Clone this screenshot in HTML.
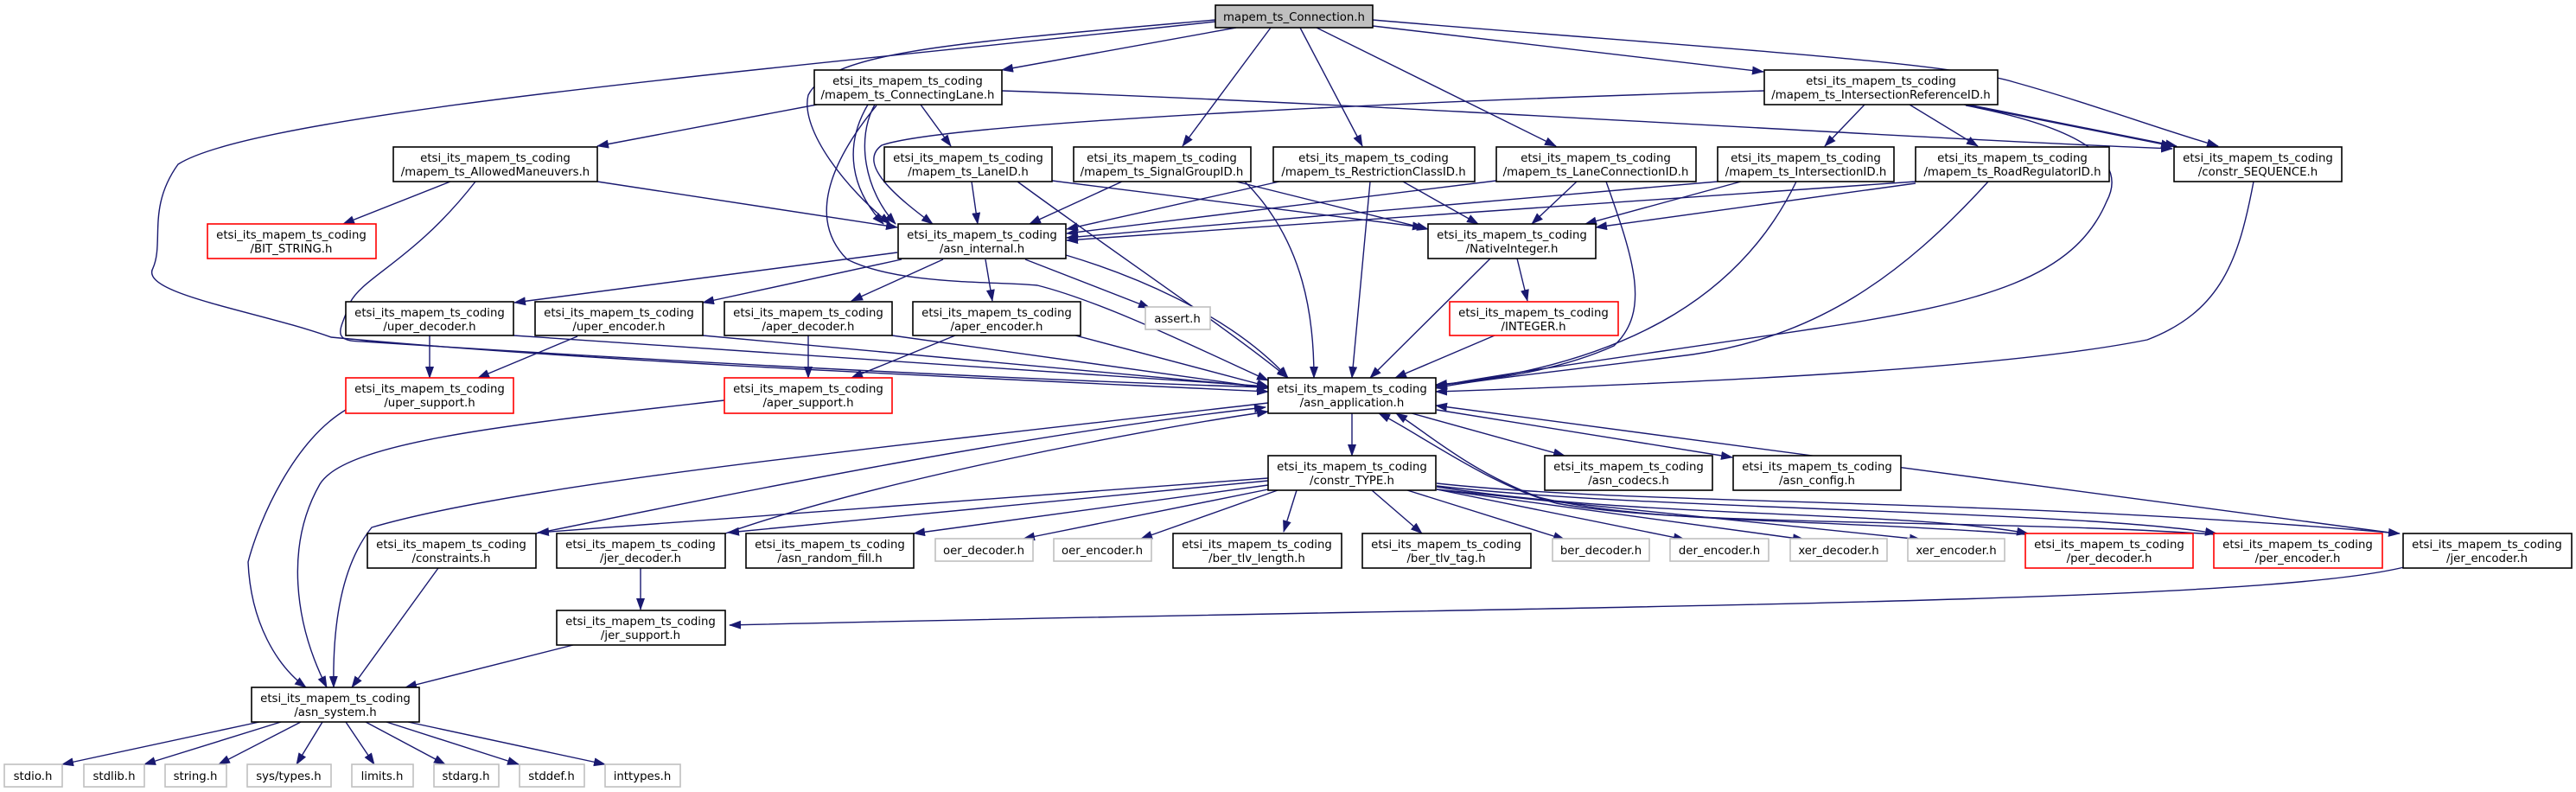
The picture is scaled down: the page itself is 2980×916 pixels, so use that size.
<!DOCTYPE html>
<html><head><meta charset="utf-8"><style>
html,body{margin:0;padding:0;background:#fff;}
svg{display:block;}
text{font-family:"DejaVu Sans","Liberation Sans",sans-serif;font-size:13.3px;fill:#000;}
.e{fill:none;stroke:#191970;stroke-width:1.4;marker-end:url(#a);}
.n{fill:#fff;stroke:#000;stroke-width:1.6;}
.g{fill:#fff;stroke:#bfbfbf;stroke-width:1.6;}
.r{fill:#fff;stroke:#ff0000;stroke-width:1.6;}
</style></head><body>
<svg width="2980" height="916" viewBox="0 0 2980 916" xmlns="http://www.w3.org/2000/svg">
<defs><marker id="a" markerUnits="userSpaceOnUse" markerWidth="14" markerHeight="10" refX="13" refY="5" orient="auto"><path d="M0,0 L14,5 L0,10 z" fill="#191970"/></marker></defs>
<g>
<!-- from Connection -->
<path class="e" d="M1430,32 L1159,81"/>
<path class="e" d="M1406,23 C1100,50 960,60 935,110 C925,150 980,220 1030,259"/>
<path class="e" d="M1406,25 C900,80 300,130 206,190 C170,240 190,280 177,310 C160,340 300,360 383,390 C700,420 1200,440 1467,453"/>
<path class="e" d="M1470,32 L1368,169"/>
<path class="e" d="M1504,32 L1576,169"/>
<path class="e" d="M1523,32 L1800,169"/>
<path class="e" d="M1588,30 L2040,83"/>
<path class="e" d="M1588,23 C1900,50 2250,70 2330,95 C2420,120 2500,150 2566,169"/>
<!-- ConnectingLane -->
<path class="e" d="M945,121 L691,169"/>
<path class="e" d="M1065,121 L1100,169"/>
<path class="e" d="M1004,121 C975,170 985,220 1022,259"/>
<path class="e" d="M1012,121 C990,160 1000,220 1036,259"/>
<path class="e" d="M1014,122 C950,200 940,260 980,300 C1040,330 1150,325 1200,330 C1280,350 1400,410 1467,440"/>
<path class="e" d="M1159,105 C1600,120 2200,160 2513,172"/>
<!-- IntersectionReferenceID -->
<path class="e" d="M2041,105 C1700,115 1100,140 1020,168 C990,190 1040,230 1079,259"/>
<path class="e" d="M2157,121 L2111,169"/>
<path class="e" d="M2209,121 L2288,169"/>
<path class="e" d="M2272,121 L2513,169"/>
<path class="e" d="M2277,121 L2518,169"/>
<path class="e" d="M2274,122 C2420,150 2460,190 2437,233 C2400,320 2300,350 2100,380 C1900,410 1750,430 1661,447"/>
<!-- AllowedManeuvers -->
<path class="e" d="M521,210 L397,259"/>
<path class="e" d="M691,210 L1038,263"/>
<path class="e" d="M550,210 C480,300 420,320 405,350 C395,380 380,395 420,395 C800,420 1200,440 1467,448"/>
<!-- LaneID -->
<path class="e" d="M1124,210 L1131,259"/>
<path class="e" d="M1217,209 L1647,263"/>
<path class="e" d="M1177,210 C1300,300 1420,380 1490,437"/>
<!-- SignalGroupID -->
<path class="e" d="M1298,210 L1191,259"/>
<path class="e" d="M1430,210 L1652,265"/>
<path class="e" d="M1440,210 C1510,280 1520,370 1520,437"/>
<!-- RestrictionClassID -->
<path class="e" d="M1480,210 L1234,265"/>
<path class="e" d="M1623,210 L1710,259"/>
<path class="e" d="M1585,210 L1564,437"/>
<!-- LaneConnectionID -->
<path class="e" d="M1731,209 L1234,270"/>
<path class="e" d="M1824,210 L1772,259"/>
<path class="e" d="M1858,210 C1890,300 1910,360 1867,400 C1800,430 1720,440 1661,445"/>
<!-- IntersectionID -->
<path class="e" d="M1987,210 L1234,275"/>
<path class="e" d="M2014,210 L1834,259"/>
<path class="e" d="M2078,210 C2020,330 1900,420 1661,446"/>
<!-- RoadRegulatorID -->
<path class="e" d="M2216,210 L1234,278"/>
<path class="e" d="M2216,212 L1846,263"/>
<path class="e" d="M2300,210 C2200,320 2100,390 1958,410 C1800,430 1700,440 1661,449"/>
<!-- constr_SEQUENCE -->
<path class="e" d="M2607,210 C2590,300 2570,360 2484,393 C2300,430 1900,445 1661,453"/>
<!-- NativeInteger, INTEGER -->
<path class="e" d="M1755,299 L1767,348"/>
<path class="e" d="M1724,299 L1585,437"/>
<path class="e" d="M1729,388 L1614,437"/>
<!-- asn_internal -->
<path class="e" d="M1038,292 L595,350"/>
<path class="e" d="M1043,300 L813,350"/>
<path class="e" d="M1091,300 L985,348"/>
<path class="e" d="M1140,300 L1148,348"/>
<path class="e" d="M1186,300 L1330,356"/>
<path class="e" d="M1233,295 C1300,315 1420,360 1490,437"/>
<!-- decoders/encoders -->
<path class="e" d="M497,388 L497,437"/>
<path class="e" d="M594,388 L1467,447"/>
<path class="e" d="M668,389 L553,437"/>
<path class="e" d="M813,388 L1467,448"/>
<path class="e" d="M935,388 L935,437"/>
<path class="e" d="M1032,388 L1467,449"/>
<path class="e" d="M1105,388 L985,437"/>
<path class="e" d="M1244,388 L1467,447"/>
<!-- supports -> asn_system -->
<path class="e" d="M400,474 C340,510 300,600 287,650 C290,720 320,770 354,795"/>
<path class="e" d="M838,463 C600,490 400,510 370,560 C330,630 340,720 378,795"/>
<!-- asn_application -->
<path class="e" d="M1564,478 L1564,527"/>
<path class="e" d="M1633,478 L1810,527"/>
<path class="e" d="M1662,474 L2004,529"/>
<path class="e" d="M1467,466 C1000,520 600,560 430,610 C390,660 385,740 386,795"/>
<path class="e" d="M620,617 C900,560 1200,500 1464,471"/>
<path class="e" d="M839,617 C1000,560 1300,500 1467,476"/>
<path class="e" d="M2772,617 L1661,469"/>
<path class="e" d="M2561,618 C2300,600 1950,610 1800,582 C1720,560 1640,500 1595,478"/>
<path class="e" d="M2343,618 C2100,600 1900,605 1780,575 C1700,545 1650,500 1615,478"/>
<!-- constr_TYPE -->
<path class="e" d="M1467,553 L622,616"/>
<path class="e" d="M1467,556 L842,616"/>
<path class="e" d="M1467,561 L1057,617"/>
<path class="e" d="M1467,566 L1184,623"/>
<path class="e" d="M1478,567 L1320,623"/>
<path class="e" d="M1500,567 L1485,615"/>
<path class="e" d="M1587,567 L1645,617"/>
<path class="e" d="M1628,567 L1810,624"/>
<path class="e" d="M1662,566 L1949,624"/>
<path class="e" d="M1662,566 L2087,624"/>
<path class="e" d="M1662,566 L2222,624"/>
<path class="e" d="M1662,563 C1900,600 2200,590 2346,617"/>
<path class="e" d="M1662,562 C1900,590 2400,590 2564,617"/>
<path class="e" d="M1662,559 C1900,585 2300,575 2776,617"/>
<!-- jer -->
<path class="e" d="M2781,656 C2600,700 1800,700 844,723"/>
<path class="e" d="M741,657 L741,705"/>
<path class="e" d="M663,746 L469,795"/>
<path class="e" d="M507,657 L407,795"/>
<!-- asn_system -> std headers -->
<path class="e" d="M300,835 L72,884"/>
<path class="e" d="M325,835 L167,884"/>
<path class="e" d="M348,835 L253,884"/>
<path class="e" d="M373,835 L343,884"/>
<path class="e" d="M400,835 L433,884"/>
<path class="e" d="M423,835 L515,884"/>
<path class="e" d="M447,835 L600,884"/>
<path class="e" d="M472,835 L700,884"/>
</g>
<g>
<!-- nodes -->
<rect x="1406" y="6" width="182" height="26" fill="#bfbfbf" stroke="#000" stroke-width="1.6"/><text x="1497" y="24" text-anchor="middle">mapem_ts_Connection.h</text>

<rect class="n" x="942" y="81" width="217" height="40"/><text x="1050" y="98" text-anchor="middle">etsi_its_mapem_ts_coding</text><text x="1050" y="114" text-anchor="middle">/mapem_ts_ConnectingLane.h</text>
<rect class="n" x="2041" y="81" width="270" height="40"/><text x="2176" y="98" text-anchor="middle">etsi_its_mapem_ts_coding</text><text x="2176" y="114" text-anchor="middle">/mapem_ts_IntersectionReferenceID.h</text>

<rect class="n" x="455" y="170" width="236" height="40"/><text x="573" y="187" text-anchor="middle">etsi_its_mapem_ts_coding</text><text x="573" y="203" text-anchor="middle">/mapem_ts_AllowedManeuvers.h</text>
<rect class="n" x="1023" y="170" width="194" height="40"/><text x="1120" y="187" text-anchor="middle">etsi_its_mapem_ts_coding</text><text x="1120" y="203" text-anchor="middle">/mapem_ts_LaneID.h</text>
<rect class="n" x="1242" y="170" width="205" height="40"/><text x="1344" y="187" text-anchor="middle">etsi_its_mapem_ts_coding</text><text x="1344" y="203" text-anchor="middle">/mapem_ts_SignalGroupID.h</text>
<rect class="n" x="1473" y="170" width="233" height="40"/><text x="1589" y="187" text-anchor="middle">etsi_its_mapem_ts_coding</text><text x="1589" y="203" text-anchor="middle">/mapem_ts_RestrictionClassID.h</text>
<rect class="n" x="1731" y="170" width="231" height="40"/><text x="1846" y="187" text-anchor="middle">etsi_its_mapem_ts_coding</text><text x="1846" y="203" text-anchor="middle">/mapem_ts_LaneConnectionID.h</text>
<rect class="n" x="1987" y="170" width="204" height="40"/><text x="2089" y="187" text-anchor="middle">etsi_its_mapem_ts_coding</text><text x="2089" y="203" text-anchor="middle">/mapem_ts_IntersectionID.h</text>
<rect class="n" x="2216" y="170" width="224" height="40"/><text x="2328" y="187" text-anchor="middle">etsi_its_mapem_ts_coding</text><text x="2328" y="203" text-anchor="middle">/mapem_ts_RoadRegulatorID.h</text>
<rect class="n" x="2515" y="170" width="194" height="40"/><text x="2612" y="187" text-anchor="middle">etsi_its_mapem_ts_coding</text><text x="2612" y="203" text-anchor="middle">/constr_SEQUENCE.h</text>

<rect class="r" x="240" y="259" width="195" height="40"/><text x="337" y="276" text-anchor="middle">etsi_its_mapem_ts_coding</text><text x="337" y="292" text-anchor="middle">/BIT_STRING.h</text>
<rect class="n" x="1039" y="259" width="194" height="40"/><text x="1136" y="276" text-anchor="middle">etsi_its_mapem_ts_coding</text><text x="1136" y="292" text-anchor="middle">/asn_internal.h</text>
<rect class="n" x="1652" y="259" width="194" height="40"/><text x="1749" y="276" text-anchor="middle">etsi_its_mapem_ts_coding</text><text x="1749" y="292" text-anchor="middle">/NativeInteger.h</text>

<rect class="n" x="400" y="349" width="194" height="39"/><text x="497" y="366" text-anchor="middle">etsi_its_mapem_ts_coding</text><text x="497" y="382" text-anchor="middle">/uper_decoder.h</text>
<rect class="n" x="619" y="349" width="194" height="39"/><text x="716" y="366" text-anchor="middle">etsi_its_mapem_ts_coding</text><text x="716" y="382" text-anchor="middle">/uper_encoder.h</text>
<rect class="n" x="838" y="349" width="194" height="39"/><text x="935" y="366" text-anchor="middle">etsi_its_mapem_ts_coding</text><text x="935" y="382" text-anchor="middle">/aper_decoder.h</text>
<rect class="n" x="1056" y="349" width="194" height="39"/><text x="1153" y="366" text-anchor="middle">etsi_its_mapem_ts_coding</text><text x="1153" y="382" text-anchor="middle">/aper_encoder.h</text>
<rect class="g" x="1325" y="355" width="75" height="26"/><text x="1362" y="373" text-anchor="middle">assert.h</text>
<rect class="r" x="1677" y="349" width="195" height="39"/><text x="1774" y="366" text-anchor="middle">etsi_its_mapem_ts_coding</text><text x="1774" y="382" text-anchor="middle">/INTEGER.h</text>

<rect class="r" x="400" y="437" width="194" height="41"/><text x="497" y="454" text-anchor="middle">etsi_its_mapem_ts_coding</text><text x="497" y="470" text-anchor="middle">/uper_support.h</text>
<rect class="r" x="838" y="437" width="194" height="41"/><text x="935" y="454" text-anchor="middle">etsi_its_mapem_ts_coding</text><text x="935" y="470" text-anchor="middle">/aper_support.h</text>
<rect class="n" x="1467" y="437" width="194" height="41"/><text x="1564" y="454" text-anchor="middle">etsi_its_mapem_ts_coding</text><text x="1564" y="470" text-anchor="middle">/asn_application.h</text>

<rect class="n" x="1467" y="527" width="194" height="40"/><text x="1564" y="544" text-anchor="middle">etsi_its_mapem_ts_coding</text><text x="1564" y="560" text-anchor="middle">/constr_TYPE.h</text>
<rect class="n" x="1787" y="527" width="194" height="40"/><text x="1884" y="544" text-anchor="middle">etsi_its_mapem_ts_coding</text><text x="1884" y="560" text-anchor="middle">/asn_codecs.h</text>
<rect class="n" x="2005" y="527" width="194" height="40"/><text x="2102" y="544" text-anchor="middle">etsi_its_mapem_ts_coding</text><text x="2102" y="560" text-anchor="middle">/asn_config.h</text>

<rect class="n" x="425" y="617" width="195" height="40"/><text x="522" y="634" text-anchor="middle">etsi_its_mapem_ts_coding</text><text x="522" y="650" text-anchor="middle">/constraints.h</text>
<rect class="n" x="644" y="617" width="195" height="40"/><text x="741" y="634" text-anchor="middle">etsi_its_mapem_ts_coding</text><text x="741" y="650" text-anchor="middle">/jer_decoder.h</text>
<rect class="n" x="863" y="617" width="194" height="40"/><text x="960" y="634" text-anchor="middle">etsi_its_mapem_ts_coding</text><text x="960" y="650" text-anchor="middle">/asn_random_fill.h</text>
<rect class="g" x="1082" y="623" width="113" height="26"/><text x="1138" y="641" text-anchor="middle">oer_decoder.h</text>
<rect class="g" x="1219" y="623" width="113" height="26"/><text x="1275" y="641" text-anchor="middle">oer_encoder.h</text>
<rect class="n" x="1357" y="617" width="195" height="40"/><text x="1454" y="634" text-anchor="middle">etsi_its_mapem_ts_coding</text><text x="1454" y="650" text-anchor="middle">/ber_tlv_length.h</text>
<rect class="n" x="1576" y="617" width="195" height="40"/><text x="1673" y="634" text-anchor="middle">etsi_its_mapem_ts_coding</text><text x="1673" y="650" text-anchor="middle">/ber_tlv_tag.h</text>
<rect class="g" x="1796" y="623" width="112" height="26"/><text x="1852" y="641" text-anchor="middle">ber_decoder.h</text>
<rect class="g" x="1932" y="623" width="114" height="26"/><text x="1989" y="641" text-anchor="middle">der_encoder.h</text>
<rect class="g" x="2071" y="623" width="112" height="26"/><text x="2127" y="641" text-anchor="middle">xer_decoder.h</text>
<rect class="g" x="2207" y="623" width="112" height="26"/><text x="2263" y="641" text-anchor="middle">xer_encoder.h</text>
<rect class="r" x="2343" y="617" width="194" height="40"/><text x="2440" y="634" text-anchor="middle">etsi_its_mapem_ts_coding</text><text x="2440" y="650" text-anchor="middle">/per_decoder.h</text>
<rect class="r" x="2561" y="617" width="195" height="40"/><text x="2658" y="634" text-anchor="middle">etsi_its_mapem_ts_coding</text><text x="2658" y="650" text-anchor="middle">/per_encoder.h</text>
<rect class="n" x="2780" y="617" width="195" height="40"/><text x="2877" y="634" text-anchor="middle">etsi_its_mapem_ts_coding</text><text x="2877" y="650" text-anchor="middle">/jer_encoder.h</text>

<rect class="n" x="644" y="706" width="195" height="40"/><text x="741" y="723" text-anchor="middle">etsi_its_mapem_ts_coding</text><text x="741" y="739" text-anchor="middle">/jer_support.h</text>
<rect class="n" x="291" y="795" width="194" height="40"/><text x="388" y="812" text-anchor="middle">etsi_its_mapem_ts_coding</text><text x="388" y="828" text-anchor="middle">/asn_system.h</text>

<rect class="g" x="5" y="884" width="67" height="26"/><text x="38" y="902" text-anchor="middle">stdio.h</text>
<rect class="g" x="97" y="884" width="70" height="26"/><text x="132" y="902" text-anchor="middle">stdlib.h</text>
<rect class="g" x="191" y="884" width="71" height="26"/><text x="226" y="902" text-anchor="middle">string.h</text>
<rect class="g" x="286" y="884" width="97" height="26"/><text x="334" y="902" text-anchor="middle">sys/types.h</text>
<rect class="g" x="407" y="884" width="71" height="26"/><text x="442" y="902" text-anchor="middle">limits.h</text>
<rect class="g" x="502" y="884" width="75" height="26"/><text x="539" y="902" text-anchor="middle">stdarg.h</text>
<rect class="g" x="601" y="884" width="75" height="26"/><text x="638" y="902" text-anchor="middle">stddef.h</text>
<rect class="g" x="700" y="884" width="87" height="26"/><text x="743" y="902" text-anchor="middle">inttypes.h</text>
</g>
</svg>
</body></html>
